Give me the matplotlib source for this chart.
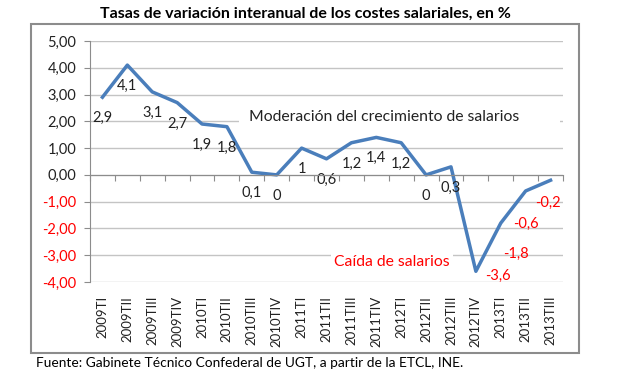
import numpy as np
import matplotlib
matplotlib.use('Agg')
import matplotlib.pyplot as plt
from matplotlib.patches import Rectangle

plt.rcParams['font.family'] = ['Lato', 'DejaVu Sans']

# Data
quarters = ['2009TI', '2009TII', '2009TIII', '2009TIV',
            '2010TI', '2010TII', '2010TIII', '2010TIV',
            '2011TI', '2011TII', '2011TIII', '2011TIV',
            '2012TI', '2012TII', '2012TIII', '2012TIV',
            '2013TI', '2013TII', '2013TIII']
tasas = [2.9, 4.1, 3.1, 2.7, 1.9, 1.8, 0.1, 0, 1, 0.6,
         1.2, 1.4, 1.2, 0, 0.3, -3.6, -1.8, -0.6, -0.2]
etiquetas = ['2,9', '4,1', '3,1', '2,7', '1,9', '1,8', '0,1', '0', '1', '0,6',
             '1,2', '1,4', '1,2', '0', '0,3', '-3,6', '-1,8', '-0,6', '-0,2']
y_ticks = [5, 4, 3, 2, 1, 0, -1, -2, -3, -4]

# label placement (points) for the negative values, as in the original
neg_offsets = {'-3,6': (16, -3), '-1,8': (11, -22), '-0,6': (0, -24), '-0,2': (-2, -16)}

W, H = 640, 374
fig = plt.figure(figsize=(W / 100, H / 100), dpi=100)

# outer chart frame
fig.patches.append(Rectangle((31 / W, 1 - 353 / H), (579 - 31) / W, (353 - 24) / H,
                             transform=fig.transFigure, fill=False,
                             edgecolor='#8c8c8c', linewidth=1.5))

ax = fig.add_axes([90 / W, 1 - 282 / H, (563 - 90) / W, (282 - 41) / H])
x = np.arange(len(quarters))

ax.plot(x, tasas, color='#4a7ebb', linewidth=2.5, zorder=3)

ax.set_xlim(-0.5, len(quarters) - 0.5)
ax.set_ylim(-4, 5)
ax.set_yticks(y_ticks)
ax.set_yticklabels([f'{v:.2f}'.replace('.', ',') for v in y_ticks], fontsize=10.5)
for lab, v in zip(ax.get_yticklabels(), y_ticks):
    lab.set_color('red' if v < 0 else '#222222')
ax.yaxis.grid(True, color='#c4c4c4', linewidth=1)
ax.set_axisbelow(True)
ax.tick_params(axis='y', length=4, color='#8c8c8c', pad=6)

ax.set_xticks(x)
ax.set_xticklabels(quarters, rotation=90, fontsize=9.5, color='#222222')
ax.tick_params(axis='x', length=0, pad=10)

for s in ['top', 'right', 'bottom']:
    ax.spines[s].set_visible(False)
ax.spines['left'].set_color('#8c8c8c')

# category axis crossing at zero with tick marks between categories
ax2 = ax.twiny()
ax2.set_xlim(ax.get_xlim())
for s in ['top', 'right', 'left']:
    ax2.spines[s].set_visible(False)
ax2.spines['bottom'].set_position(('data', 0))
ax2.spines['bottom'].set_color('#8c8c8c')
ax2.xaxis.set_ticks_position('bottom')
ax2.set_xticks(np.arange(-0.5, len(quarters), 1))
ax2.set_xticklabels([])
ax2.tick_params(axis='x', length=4, color='#8c8c8c', direction='out')

# data labels
for xi, yi, t in zip(x, tasas, etiquetas):
    if yi < 0:
        ax.annotate(t, (xi, yi), xytext=neg_offsets[t], textcoords='offset points',
                    ha='center', va='center', color='red', fontsize=10.5, zorder=4)
    else:
        ax.annotate(t, (xi, yi), xytext=(0, -15), textcoords='offset points',
                    ha='center', va='center', color='#222222', fontsize=10.5, zorder=4)

# text boxes hide the gridlines behind them
ax.text(5.55, 2.16, '  Moderación del crecimiento de salarios          ', ha='left', va='center',
        fontsize=11.3, color='#222222', zorder=2,
        bbox=dict(facecolor='white', edgecolor='none', pad=1))
ax.text(11.63, -3.25, 'Caída de salarios', ha='center', va='center',
        fontsize=11.3, color='red', zorder=2,
        bbox=dict(facecolor='white', edgecolor='none', pad=2))

fig.text(305 / W, 1 - 14 / H, 'Tasas de variación interanual de los costes salariales, en %',
         ha='center', va='center', fontsize=11.5, fontweight='bold')
fig.text(36 / W, 1 - 363 / H, 'Fuente: Gabinete Técnico Confederal de UGT, a partir de la ETCL, INE.',
         ha='left', va='center', fontsize=9.9)

fig.savefig('out.png', dpi=100)
